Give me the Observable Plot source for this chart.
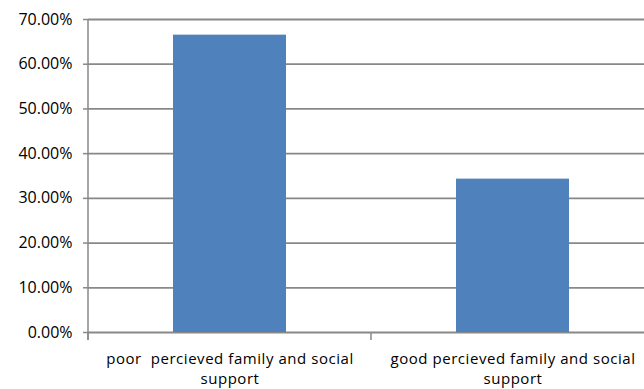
<!DOCTYPE html>
<html><head><meta charset="utf-8">
<script src="https://cdn.jsdelivr.net/npm/d3@7"></script>
<script src="https://cdn.jsdelivr.net/npm/@observablehq/plot@0.6"></script>
<style>body{margin:0;background:#fff}svg{display:block}
g[aria-label="x-axis tick label"] text{letter-spacing:0.55px}</style>
</head><body><div id="chart"></div>
<script>
const categories = ["poor  percieved family and social support", "good percieved family and social support"];
const labelLines = [["poor  percieved family and social", "support"], ["good percieved family and social", "support"]];
const values = [0.665, 0.343];
const yTicks = [0, 0.1, 0.2, 0.3, 0.4, 0.5, 0.6, 0.7];

const data = categories.map((c, i) => ({c, v: values[i]}));
const lineOf = Object.fromEntries(categories.map((c, i) => [c, labelLines[i].join("\n")]));
const W = 644, H = 389, ML = 88, MT = 19, MB = 57;
const gray = "#888888";

const axisLines = (index, scales, values, dims) => {
  const g = d3.create("svg:g");
  const x = scales.x, y = scales.y;
  const step = x.step ? x.step() : (x.bandwidth() / 0.4);
  const gap = (step - x.bandwidth()) / 2;
  const y0 = y(0), yb = y0 + 8;
  g.append("line").attr("x1", ML).attr("x2", ML).attr("y1", y(0.7)).attr("y2", yb)
    .attr("stroke", gray).attr("stroke-width", 1.5);
  const bounds = categories.map(c => x(c) - gap);
  bounds.push(x(categories[categories.length - 1]) + x.bandwidth() + gap);
  for (const b of bounds) {
    g.append("line").attr("x1", b).attr("x2", b).attr("y1", y0).attr("y2", yb)
      .attr("stroke", gray).attr("stroke-width", 1.5);
  }
  return g.node();
};

const chart = Plot.plot({
  width: W, height: H,
  marginLeft: ML, marginTop: MT, marginBottom: MB, marginRight: 0,
  style: {fontFamily: "'Open Sans', sans-serif", fontSize: "15px", color: "#000", background: "#fff"},
  x: {domain: categories, range: [ML, 655], paddingInner: 0.6, paddingOuter: 0.3, label: null},
  y: {domain: [0, 0.7], label: null},
  marks: [
    Plot.ruleY(yTicks, {stroke: gray, strokeWidth: 1.8, strokeOpacity: 1}),
    Plot.barY(data, {x: "c", y: "v", fill: "#4F81BD"}),
    Plot.axisY({ticks: yTicks, tickFormat: d3.format(".2%"), tickSize: 5, tickPadding: 11, stroke: gray, strokeWidth: 1.5, fontSize: 16, label: null}),
    Plot.axisX({tickSize: 0, tickPadding: 18, tickFormat: d => lineOf[d], fontSize: 15, lineHeight: 1.3, label: null}),
    axisLines
  ]
});
document.getElementById("chart").append(chart);
</script></body></html>
